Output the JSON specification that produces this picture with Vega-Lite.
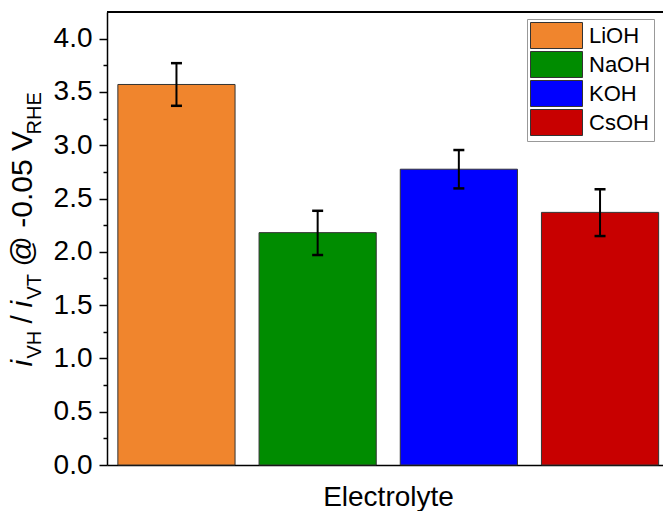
{
  "$schema": "https://vega.github.io/schema/vega-lite/v6.json",
  "width": 556,
  "height": 453,
  "autosize": {"type": "none"},
  "padding": {"left": 107, "top": 12, "right": 0, "bottom": 46},
  "config": {
    "font": "Liberation Sans",
    "view": {"stroke": null},
    "axis": {"titleFontWeight": "normal", "titleColor": "black", "labelColor": "black", "grid": false}
  },
  "data": {
    "values": [
      {"electrolyte": "LiOH", "ratio": 3.57, "lo": 3.37, "hi": 3.77},
      {"electrolyte": "NaOH", "ratio": 2.18, "lo": 1.97, "hi": 2.385},
      {"electrolyte": "KOH", "ratio": 2.775, "lo": 2.595, "hi": 2.955},
      {"electrolyte": "CsOH", "ratio": 2.37, "lo": 2.148, "hi": 2.587}
    ]
  },
  "layer": [
    {
      "mark": {"type": "bar", "stroke": "#333333", "strokeWidth": 1},
      "encoding": {
        "x": {
          "field": "electrolyte", "type": "nominal",
          "scale": {"domain": ["LiOH", "NaOH", "KOH", "CsOH"], "range": [0, 562.5], "paddingInner": 0.17, "paddingOuter": 0.077},
          "axis": {"orient": "bottom", "title": "Electrolyte", "labels": false, "ticks": false, "domainColor": "black", "domainWidth": 1.5, "titleFontSize": 28, "titleX": 281, "titleY": 40, "titleAlign": "center", "titleBaseline": "alphabetic"}
        },
        "y": {
          "field": "ratio", "type": "quantitative",
          "scale": {"domain": [0, 4.25], "nice": false},
          "axis": {
            "orient": "left",
            "values": [0, 0.25, 0.5, 0.75, 1, 1.25, 1.5, 1.75, 2, 2.25, 2.5, 2.75, 3, 3.25, 3.5, 3.75, 4],
            "labelExpr": "datum.value % 0.5 === 0 ? format(datum.value, '.1f') : ''",
            "labelFontSize": 28, "labelPadding": 7, "labelOverlap": false, "labelFlush": false, "labelBaseline": "middle",
            "tickSize": {"condition": {"test": "datum.value % 0.5 !== 0", "value": 4}, "value": 8},
            "tickColor": "black", "tickWidth": 1.5, "domainColor": "black", "domainWidth": 1.5,
            "title": "@ -0.05 V", "titleFontSize": 30, "titleAngle": 270, "titleAlign": "left", "titleBaseline": "alphabetic", "titleX": -76, "titleY": 254
          }
        },
        "color": {
          "field": "electrolyte", "type": "nominal",
          "scale": {"domain": ["LiOH", "NaOH", "KOH", "CsOH"], "range": ["#F0852D", "#008C00", "#0000FF", "#C80000"]},
          "legend": {
            "title": null, "orient": "none", "legendX": 420, "legendY": 7,
            "symbolType": "M-1,-1H3V1H-1Z", "symbolSize": 676, "symbolStrokeColor": "#333333", "symbolStrokeWidth": 1, "symbolOpacity": 1,
            "labelFontSize": 22, "labelFont": "Liberation Sans", "labelColor": "black", "labelOffset": 32,
            "rowPadding": -2, "padding": 3, "strokeColor": "#999999", "fillColor": "white"
          }
        }
      }
    },
    {
      "mark": {"type": "rule", "strokeWidth": 2, "color": "black"},
      "encoding": {
        "x": {
          "field": "electrolyte", "type": "nominal",
          "scale": {"domain": ["LiOH", "NaOH", "KOH", "CsOH"], "range": [0, 562.5], "paddingInner": 0.17, "paddingOuter": 0.077},
          "axis": {"orient": "bottom", "title": "VT", "domain": false, "ticks": false, "labels": false, "titleFontSize": 20, "titleAngle": 270, "titleAlign": "left", "titleBaseline": "alphabetic", "titleX": -67, "titleY": -166}
        },
        "y": {
          "field": "lo", "type": "quantitative",
          "scale": {"domain": [0, 4.25], "nice": false},
          "axis": {"orient": "left", "title": "i", "domain": false, "ticks": false, "labels": false, "titleFontSize": 30, "titleFontStyle": "italic", "titleAngle": 270, "titleAlign": "left", "titleBaseline": "alphabetic", "titleX": -76, "titleY": 354}
        },
        "y2": {"field": "hi"}
      }
    },
    {
      "mark": {"type": "tick", "thickness": 2.5, "size": 11, "color": "black", "opacity": 1},
      "encoding": {
        "x": {
          "field": "electrolyte", "type": "nominal",
          "scale": {"domain": ["LiOH", "NaOH", "KOH", "CsOH"], "range": [0, 562.5], "paddingInner": 0.17, "paddingOuter": 0.077},
          "axis": {"orient": "bottom", "title": "RHE", "domain": false, "ticks": false, "labels": false, "titleFontSize": 20, "titleAngle": 270, "titleAlign": "left", "titleBaseline": "alphabetic", "titleX": -67, "titleY": -331}
        },
        "y": {
          "field": "hi", "type": "quantitative",
          "scale": {"domain": [0, 4.25], "nice": false},
          "axis": {"orient": "left", "title": "VH", "domain": false, "ticks": false, "labels": false, "titleFontSize": 20, "titleAngle": 270, "titleAlign": "left", "titleBaseline": "alphabetic", "titleX": -67, "titleY": 346}
        }
      }
    },
    {
      "mark": {"type": "tick", "thickness": 2.5, "size": 11, "color": "black", "opacity": 1},
      "encoding": {
        "x": {
          "field": "electrolyte", "type": "nominal",
          "scale": {"domain": ["LiOH", "NaOH", "KOH", "CsOH"], "range": [0, 562.5], "paddingInner": 0.17, "paddingOuter": 0.077},
          "axis": null
        },
        "y": {
          "field": "lo", "type": "quantitative",
          "scale": {"domain": [0, 4.25], "nice": false},
          "axis": {"orient": "left", "title": "/", "domain": false, "ticks": false, "labels": false, "titleFontSize": 30, "titleAngle": 270, "titleAlign": "left", "titleBaseline": "alphabetic", "titleX": -76, "titleY": 311}
        }
      }
    },
    {
      "mark": {"type": "rule", "strokeWidth": 1.5, "color": "black"},
      "encoding": {
        "y": {
          "datum": 4.25, "type": "quantitative",
          "scale": {"domain": [0, 4.25], "nice": false},
          "axis": {"orient": "left", "title": "i", "domain": false, "ticks": false, "labels": false, "titleFontSize": 30, "titleFontStyle": "italic", "titleAngle": 270, "titleAlign": "left", "titleBaseline": "alphabetic", "titleX": -76, "titleY": 295}
        }
      }
    }
  ],
  "resolve": {"axis": {"x": "independent", "y": "independent"}}
}
